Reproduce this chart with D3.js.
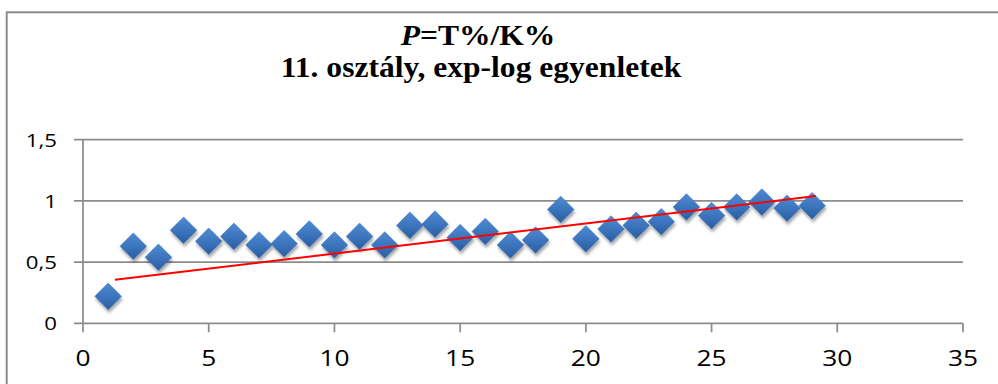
<!DOCTYPE html>
<html>
<head>
<meta charset="utf-8">
<script src="https://cdn.jsdelivr.net/npm/d3@7"></script>
<style>
    body { margin: 0; background: #fff; }
    .grid-line { stroke: #8c8c8c; stroke-width: 1.75; }
    .axis-tick { stroke: #8c8c8c; stroke-width: 1.75; }
    .tick-label { font-family: "Open Sans", sans-serif; fill: #000; }
    .chart-title { font-family: "Liberation Serif", "Times New Roman", serif; font-weight: bold; font-size: 29.5px; fill: #000; }
</style>
</head>
<body>
<svg id="chart"></svg>
<script>
// values
const xValues = [1, 2, 3, 4, 5, 6, 7, 8, 9, 10, 11, 12, 13, 14, 15, 16, 17, 18, 19, 20, 21, 22, 23, 24, 25, 26, 27, 28, 29];
const yValues = [0.22, 0.63, 0.54, 0.76, 0.67, 0.71, 0.64, 0.65, 0.73, 0.64, 0.71, 0.64, 0.80, 0.81, 0.70, 0.75, 0.64, 0.68, 0.93, 0.69, 0.77, 0.80, 0.83, 0.95, 0.88, 0.95, 0.99, 0.94, 0.96];
const trendX = [1.27, 29.15];
const trendY = [0.355, 1.04];
const xTicks = [0, 5, 10, 15, 20, 25, 30, 35];
const yTicks = [0, 0.5, 1, 1.5];
const titleLine2 = "11. osztály, exp-log egyenletek";

class ScatterChart {

    constructor(_config) {
        this.config = {
            parentElement: _config.parentElement,
            containerWidth: 998,
            containerHeight: 384,
            margin: {top: 139.7, right: 35, bottom: 60.7, left: 83},
            stretch: 1.17, // tick labels in the source are a bit wide
            titleStretch: 1.07
        };
        this.initVis();
    }

    initVis() {
        let vis = this;

        vis.width = vis.config.containerWidth - vis.config.margin.left - vis.config.margin.right;
        vis.height = vis.config.containerHeight - vis.config.margin.top - vis.config.margin.bottom;

        vis.svg = d3.select(vis.config.parentElement)
            .attr('width', vis.config.containerWidth)
            .attr('height', vis.config.containerHeight);

        // gradient + soft shadow for the diamond markers
        const defs = vis.svg.append('defs');
        const grad = defs.append('linearGradient')
            .attr('id', 'diamondFill')
            .attr('x1', 0).attr('y1', 0).attr('x2', 0).attr('y2', 1);
        grad.append('stop').attr('offset', '0%').attr('stop-color', '#4f8bd2');
        grad.append('stop').attr('offset', '55%').attr('stop-color', '#3a73bb');
        grad.append('stop').attr('offset', '100%').attr('stop-color', '#2b5c9e');

        const shadow = defs.append('filter')
            .attr('id', 'shadow')
            .attr('x', '-50%').attr('y', '-50%').attr('width', '200%').attr('height', '200%');
        shadow.append('feDropShadow')
            .attr('dx', 1).attr('dy', 3)
            .attr('stdDeviation', 1.8)
            .attr('flood-color', '#000')
            .attr('flood-opacity', 0.35);

        // outer chart frame (runs off the right and bottom edges)
        vis.svg.append('rect')
            .attr('x', 6.7)
            .attr('y', 12.3)
            .attr('width', 1100)
            .attr('height', 500)
            .attr('fill', 'none')
            .attr('stroke', '#8c8c8c')
            .attr('stroke-width', 2);

        vis.chart = vis.svg.append('g')
            .attr('transform', `translate(${vis.config.margin.left},${vis.config.margin.top})`);

        vis.xScale = d3.scaleLinear()
            .domain([0, 35])
            .range([0, vis.width]);

        vis.yScale = d3.scaleLinear()
            .domain([0, 1.5])
            .range([vis.height, 0]);

        // title
        const ts = vis.config.titleStretch;
        const t1 = vis.svg.append('text')
            .attr('class', 'chart-title')
            .attr('transform', `translate(478,45) scale(${ts},1)`)
            .attr('text-anchor', 'middle');
        t1.append('tspan').style('font-style', 'italic').text('P');
        t1.append('tspan').text('=T%/K%');

        vis.svg.append('text')
            .attr('class', 'chart-title')
            .attr('transform', `translate(481,77) scale(${ts},1)`)
            .attr('text-anchor', 'middle')
            .text(titleLine2);

        vis.renderVis();
    }

    renderVis() {
        let vis = this;
        const s = vis.config.stretch;

        // horizontal gridlines
        vis.chart.selectAll('.grid-line')
            .data(yTicks)
            .join('line')
            .attr('class', 'grid-line')
            .attr('x1', -9)
            .attr('x2', vis.width)
            .attr('y1', d => vis.yScale(d))
            .attr('y2', d => vis.yScale(d));

        // vertical axis line
        vis.chart.append('line')
            .attr('class', 'axis-tick')
            .attr('x1', 0).attr('x2', 0)
            .attr('y1', 0).attr('y2', vis.height);

        // x ticks
        vis.chart.selectAll('.x-tick')
            .data(xTicks)
            .join('line')
            .attr('class', 'axis-tick x-tick')
            .attr('x1', d => vis.xScale(d))
            .attr('x2', d => vis.xScale(d))
            .attr('y1', vis.height)
            .attr('y2', vis.height + 9);

        vis.chart.selectAll('.x-label')
            .data(xTicks)
            .join('text')
            .attr('class', 'tick-label x-label')
            .attr('transform', d => `translate(${vis.xScale(d)},${vis.height + 42.5}) scale(${s},1)`)
            .attr('text-anchor', 'middle')
            .style('font-size', '22.5px')
            .text(d => d);

        vis.chart.selectAll('.y-label')
            .data(yTicks)
            .join('text')
            .attr('class', 'tick-label y-label')
            .attr('transform', d => `translate(-26,${vis.yScale(d)}) scale(${s},1)`)
            .attr('dy', '0.36em')
            .attr('text-anchor', 'end')
            .style('font-size', '19px')
            .text(d => String(d).replace('.', ','));

        // markers
        const pts = xValues.map((x, i) => ({x: x, y: yValues[i]}));
        const r = 13.3;
        vis.chart.selectAll('.marker')
            .data(pts)
            .join('path')
            .attr('class', 'marker')
            .attr('d', `M0,${-r}L${r},0L0,${r}L${-r},0Z`)
            .attr('transform', d => `translate(${vis.xScale(d.x)},${vis.yScale(d.y)})`)
            .attr('fill', 'url(#diamondFill)')
            .attr('stroke', '#3d76bd')
            .attr('stroke-width', 0.6)
            .attr('filter', 'url(#shadow)');

        // trend line
        vis.chart.append('path')
            .datum(trendX.map((x, i) => [x, trendY[i]]))
            .attr('fill', 'none')
            .attr('stroke', '#ff0000')
            .attr('stroke-width', 2)
            .attr('d', d3.line()
                .x(d => vis.xScale(d[0]))
                .y(d => vis.yScale(d[1])));
    }
}

new ScatterChart({parentElement: '#chart'});
</script>
</body>
</html>
